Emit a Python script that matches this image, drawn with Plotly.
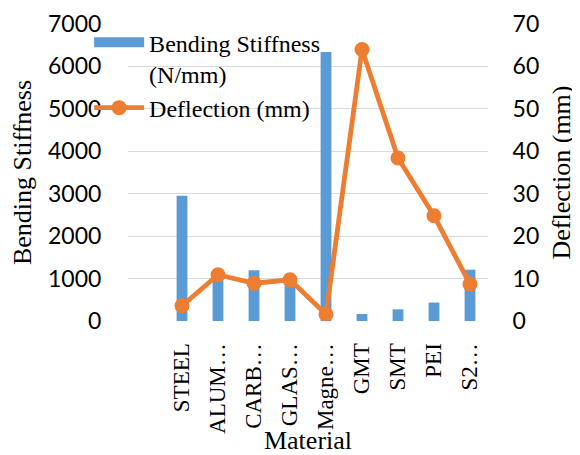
import plotly.graph_objects as go

materials = ["STEEL", "ALUM…", "CARB…", "GLAS…", "Magne…", "GMT", "SMT", "PEI", "S2…"]
bending_stiffness = [2950, 1150, 1195, 1050, 6340, 165, 275, 435, 1210]
deflection = [3.6, 10.9, 8.9, 9.7, 1.6, 64.0, 38.4, 24.8, 8.7]

y_ticks = [0, 1000, 2000, 3000, 4000, 5000, 6000, 7000]
y2_ticks = [0, 10, 20, 30, 40, 50, 60, 70]

BAR_COLOR = "#5B9BD5"
LINE_COLOR = "#ED7D31"
SERIF = "Liberation Serif, Times New Roman, serif"
SANS = "Lato, Liberation Sans, sans-serif"

fig = go.Figure()
fig.add_trace(go.Bar(
    x=materials, y=bending_stiffness, name="Bending Stiffness<br>(N/mm)",
    marker=dict(color=BAR_COLOR, line=dict(width=0)), width=0.3, yaxis="y",
    showlegend=False,
))
# legend entry drawn as a wide bar swatch (as in the original chart legend)
fig.add_trace(go.Scatter(
    x=[None], y=[None], name="Bending Stiffness<br>(N/mm)", mode="lines",
    line=dict(color=BAR_COLOR, width=13), yaxis="y", hoverinfo="skip",
))
fig.add_trace(go.Scatter(
    x=materials, y=deflection, name="Deflection (mm)", mode="lines+markers",
    line=dict(color=LINE_COLOR, width=4.8), marker=dict(color=LINE_COLOR, size=15),
    yaxis="y2",
))

# page body has an 8px margin, so the figure is sized to fit the window
fig.update_layout(
    width=572, height=447,
    margin=dict(l=120, r=92, t=12, b=134),
    paper_bgcolor="white", plot_bgcolor="white",
    showlegend=True,
    legend=dict(
        x=-0.108, y=1.013, xanchor="left", yanchor="top",
        bgcolor="rgba(0,0,0,0)", font=dict(family=SERIF, size=24, color="black"),
        itemwidth=50, valign="top", tracegroupgap=0, traceorder="normal",
    ),
    xaxis=dict(
        type="category", range=[-1.5, 8.5], tickangle=-90, automargin=False,
        tickfont=dict(family=SERIF, size=23, color="black"),
        showgrid=False, showline=False, zeroline=False,
        ticks="outside", ticklen=12, tickcolor="rgba(0,0,0,0)",
        title=dict(text="Material", font=dict(family=SERIF, size=26, color="black"), standoff=12),
    ),
    yaxis=dict(
        range=[0, 7000], tickvals=y_ticks, automargin=False, ticklabeloverflow="allow",
        tickfont=dict(family=SANS, size=23, color="black"),
        showgrid=True, gridcolor="#D9D9D9", gridwidth=1.3, zeroline=False, showline=False,
        ticks="outside", ticklen=21, tickcolor="rgba(0,0,0,0)",
        title=dict(text="Bending Stiffness", font=dict(family=SERIF, size=26, color="black"), standoff=8),
    ),
    yaxis2=dict(
        range=[0, 70], tickvals=y2_ticks, overlaying="y", side="right", automargin=False,
        ticklabeloverflow="allow",
        tickfont=dict(family=SANS, size=23, color="black"),
        showgrid=False, zeroline=False, showline=False,
        ticks="outside", ticklen=19, tickcolor="rgba(0,0,0,0)",
        title=dict(text="Deflection (mm)", font=dict(family=SERIF, size=26, color="black"), standoff=13),
    ),
)

fig.write_html("out.html")
